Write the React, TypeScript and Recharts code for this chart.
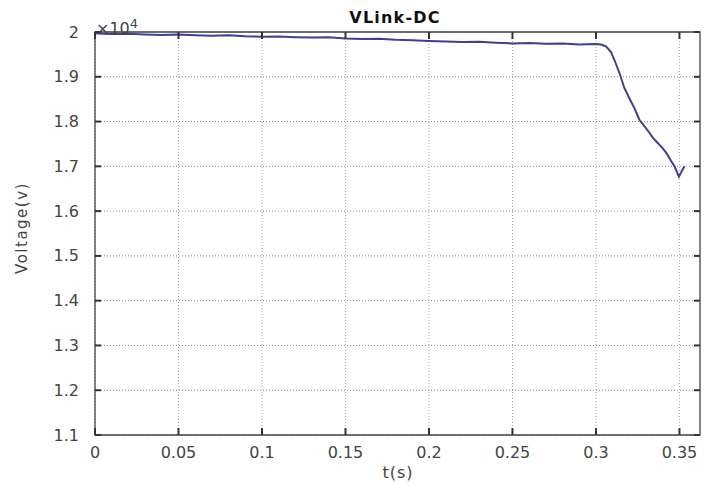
import React from "react";
import {
  LineChart,
  Line,
  XAxis,
  YAxis,
  CartesianGrid,
  ReferenceArea,
} from "recharts";

// time (s)
const times = [
  0, 0.005, 0.01, 0.02, 0.03, 0.04, 0.05, 0.06, 0.07, 0.08, 0.09, 0.1, 0.11,
  0.12, 0.13, 0.14, 0.15, 0.16, 0.17, 0.18, 0.19, 0.2, 0.21, 0.22, 0.23, 0.24,
  0.25, 0.26, 0.27, 0.28, 0.29, 0.3, 0.303, 0.306, 0.309, 0.311, 0.314, 0.317,
  0.32, 0.323, 0.326, 0.329, 0.332, 0.334, 0.337, 0.34, 0.3425, 0.345, 0.347,
  0.3497, 0.3515, 0.353,
];

// DC link voltage (V)
const voltage = [
  19970, 19960, 19955, 19960, 19945, 19935, 19942, 19925, 19915, 19928, 19905,
  19895, 19900, 19885, 19875, 19882, 19855, 19845, 19850, 19825, 19815, 19800,
  19790, 19775, 19782, 19762, 19745, 19752, 19735, 19742, 19722, 19730, 19720,
  19680, 19550, 19380, 19090, 18750, 18520, 18300, 18040, 17900, 17750, 17640,
  17520, 17400, 17280, 17120, 17000, 16770, 16900, 17000,
];

const xTicks = [0, 0.05, 0.1, 0.15, 0.2, 0.25, 0.3, 0.35];
const xTickLabels = ["0", "0.05", "0.1", "0.15", "0.2", "0.25", "0.3", "0.35"];
const yTicks = [11000, 12000, 13000, 14000, 15000, 16000, 17000, 18000, 19000, 20000];
const yTickLabels = ["1.1", "1.2", "1.3", "1.4", "1.5", "1.6", "1.7", "1.8", "1.9", "2"];

const X_MAX = 0.3623;
const PLOT_LEFT = 95;
const PLOT_RIGHT = 700;
const PLOT_TOP = 32;
const PLOT_BOTTOM = 435;
const FONT = "'DejaVu Sans', sans-serif";

const data = times.map((t, i) => ({ t, v: voltage[i] }));

const YTick = (props: any) => {
  const { y, payload } = props;
  const idx = yTicks.indexOf(payload.value);
  return (
    <g>
      <text
        x={79}
        y={y}
        textAnchor="end"
        dominantBaseline="central"
        fontSize={16}
        fontFamily={FONT}
        fill="#444"
      >
        {yTickLabels[idx]}
      </text>
      <line x1={PLOT_LEFT} x2={PLOT_LEFT + 6} y1={y} y2={y} stroke="#333" strokeWidth={2} />
      <line x1={PLOT_RIGHT - 6} x2={PLOT_RIGHT} y1={y} y2={y} stroke="#333" strokeWidth={2} />
    </g>
  );
};

const XTick = (props: any) => {
  const { x, payload } = props;
  const idx = xTicks.indexOf(payload.value);
  return (
    <g>
      <text
        x={x}
        y={452}
        textAnchor="middle"
        dominantBaseline="central"
        fontSize={16}
        fontFamily={FONT}
        fill="#444"
      >
        {xTickLabels[idx]}
      </text>
      <line x1={x} x2={x} y1={PLOT_BOTTOM - 7} y2={PLOT_BOTTOM} stroke="#333" strokeWidth={2} />
      <line x1={x} x2={x} y1={PLOT_TOP} y2={PLOT_TOP + 7} stroke="#333" strokeWidth={2} />
    </g>
  );
};

export default function App() {
  return (
    <div
      style={{
        position: "absolute",
        left: 0,
        top: 0,
        width: 705,
        height: 482,
        background: "#fff",
        fontFamily: FONT,
      }}
    >
      <LineChart
        width={705}
        height={482}
        data={data}
        margin={{ top: PLOT_TOP, right: 705 - PLOT_RIGHT, bottom: 0, left: 0 }}
      >
        <CartesianGrid
          vertical={false}
          stroke="#888"
          strokeDasharray="1 2"
          horizontalValues={yTicks}
        />
        <CartesianGrid
          horizontal={false}
          stroke="#aaa"
          strokeDasharray="1 2"
          verticalValues={xTicks}
        />
        <XAxis
          dataKey="t"
          type="number"
          domain={[0, X_MAX]}
          ticks={xTicks}
          allowDataOverflow
          height={482 - PLOT_BOTTOM}
          tickSize={0}
          tickLine={false}
          axisLine={false}
          tick={<XTick />}
          interval={0}
        />
        <YAxis
          type="number"
          domain={[11000, 20000]}
          ticks={yTicks}
          allowDataOverflow
          width={PLOT_LEFT}
          tickSize={0}
          tickLine={false}
          axisLine={false}
          tick={<YTick />}
          interval={0}
        />
        <ReferenceArea
          x1={0}
          x2={X_MAX}
          y1={11000}
          y2={20000}
          fill="none"
          stroke="#444"
          strokeWidth={1.3}
          ifOverflow="visible"
        />
        <Line
          type="linear"
          dataKey="v"
          stroke="#3f3f93"
          strokeWidth={2}
          dot={false}
          isAnimationActive={false}
        />
      </LineChart>
      <div
        style={{
          position: "absolute",
          left: 395,
          top: 9,
          transform: "translateX(-50%)",
          fontSize: 16,
          fontWeight: "bold",
          letterSpacing: 1.2,
          lineHeight: "18px",
          color: "#111",
          whiteSpace: "nowrap",
        }}
      >
        VLink-DC
      </div>
      <div
        style={{
          position: "absolute",
          left: 96,
          top: 15,
          fontSize: 16,
          lineHeight: "18px",
          color: "#444",
          whiteSpace: "nowrap",
        }}
      >
        ×10<sup style={{ fontSize: 13, verticalAlign: "6px" }}>4</sup>
      </div>
      <div
        style={{
          position: "absolute",
          left: 22,
          top: 228,
          transform: "translate(-50%, -50%) rotate(-90deg)",
          fontSize: 15,
          letterSpacing: 1.5,
          color: "#444",
          whiteSpace: "nowrap",
        }}
      >
        Voltage(v)
      </div>
      <div
        style={{
          position: "absolute",
          left: 398,
          top: 472,
          transform: "translate(-50%, -50%)",
          fontSize: 16,
          letterSpacing: 1,
          color: "#444",
          whiteSpace: "nowrap",
        }}
      >
        t(s)
      </div>
    </div>
  );
}
